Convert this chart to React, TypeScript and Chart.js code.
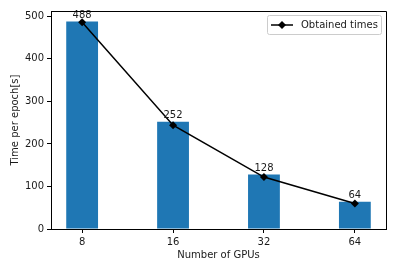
import React, { useEffect, useRef } from "react";
import { Chart, registerables } from "chart.js";

Chart.register(...registerables);

const gpuLabels = ["8", "16", "32", "64"];
const barValues = [488, 252, 128, 64];
const obtainedTimes = [486, 244, 122, 60];
const yTicks = [0, 100, 200, 300, 400, 500];
const legendLabel = "Obtained times";
const xTitle = "Number of GPUs";
const yTitle = "Time per epoch[s]";

const FONT = "'DejaVu Sans', sans-serif";
const TEXT = "#1a1a1a";

export default function App() {
  const ref = useRef<HTMLCanvasElement | null>(null);

  useEffect(() => {
    document.body.style.margin = "0";
    const canvas = ref.current;
    if (!canvas) return;

    const framePlugin = {
      id: "frame",
      afterDatasetsDraw(chart: any) {
        const { ctx, chartArea } = chart;
        const { left, right, top, bottom } = chartArea;
        ctx.save();
        // bar labels
        const meta = chart.getDatasetMeta(0);
        ctx.font = `10px ${FONT}`;
        ctx.fillStyle = TEXT;
        ctx.textAlign = "center";
        ctx.textBaseline = "alphabetic";
        meta.data.forEach((el: any, i: number) => {
          ctx.fillText(String(barValues[i]), el.x, el.y - 3.5);
        });
        // frame
        ctx.strokeStyle = "#000";
        ctx.lineWidth = 1;
        ctx.beginPath();
        ctx.moveTo(left, top + 0.5);
        ctx.lineTo(right + 0.5, top + 0.5);
        ctx.lineTo(right + 0.5, bottom);
        ctx.stroke();
        // legend
        const bx = right - 119;
        const by = top + 4;
        const bw = 114;
        const bh = 19;
        ctx.fillStyle = "rgba(255,255,255,0.85)";
        ctx.strokeStyle = "#cccccc";
        ctx.beginPath();
        const r = 2;
        ctx.moveTo(bx + r + 0.5, by + 0.5);
        ctx.lineTo(bx + bw - r + 0.5, by + 0.5);
        ctx.arcTo(bx + bw + 0.5, by + 0.5, bx + bw + 0.5, by + r + 0.5, r);
        ctx.lineTo(bx + bw + 0.5, by + bh - r + 0.5);
        ctx.arcTo(bx + bw + 0.5, by + bh + 0.5, bx + bw - r + 0.5, by + bh + 0.5, r);
        ctx.lineTo(bx + r + 0.5, by + bh + 0.5);
        ctx.arcTo(bx + 0.5, by + bh + 0.5, bx + 0.5, by + bh - r + 0.5, r);
        ctx.lineTo(bx + 0.5, by + r + 0.5);
        ctx.arcTo(bx + 0.5, by + 0.5, bx + r + 0.5, by + 0.5, r);
        ctx.closePath();
        ctx.fill();
        ctx.stroke();
        const cy = by + bh / 2 + 0.5;
        ctx.strokeStyle = "#000";
        ctx.lineWidth = 1.5;
        ctx.beginPath();
        ctx.moveTo(bx + 4, cy);
        ctx.lineTo(bx + 26, cy);
        ctx.stroke();
        const dx = bx + 15;
        ctx.fillStyle = "#000";
        ctx.beginPath();
        ctx.moveTo(dx, cy - 4);
        ctx.lineTo(dx + 4, cy);
        ctx.lineTo(dx, cy + 4);
        ctx.lineTo(dx - 4, cy);
        ctx.closePath();
        ctx.fill();
        ctx.fillStyle = TEXT;
        ctx.font = `10px ${FONT}`;
        ctx.textAlign = "left";
        ctx.textBaseline = "middle";
        ctx.fillText(legendLabel, bx + 34, cy);
        ctx.restore();
      },
    };

    const chart = new Chart(canvas, {
      type: "bar",
      data: {
        datasets: [
          {
            type: "bar",
            label: "bars",
            data: barValues.map((v, i) => ({ x: i, y: v })),
            backgroundColor: "#1f77b4",
            borderWidth: 0,
            barPercentage: 0.35,
            categoryPercentage: 1,
            order: 2,
          },
          {
            type: "line",
            label: legendLabel,
            data: obtainedTimes.map((v, i) => ({ x: i, y: v })),
            borderColor: "#000",
            backgroundColor: "#000",
            borderWidth: 1.5,
            pointStyle: "rectRot",
            pointRadius: 4,
            pointBorderWidth: 0,
            pointBackgroundColor: "#000",
            tension: 0,
            fill: false,
            order: 1,
          },
        ],
      },
      plugins: [framePlugin],
      options: {
        animation: false,
        responsive: false,
        maintainAspectRatio: false,
        devicePixelRatio: 1,
        layout: { padding: { top: 11, right: 10, left: 0, bottom: 0 } },
        plugins: {
          legend: { display: false },
          tooltip: { enabled: false },
        },
        scales: {
          x: {
            type: "linear",
            offset: false,
            min: -0.3425,
            max: 3.3425,
            afterBuildTicks: (scale: any) => {
              scale.ticks = gpuLabels.map((_, i) => ({ value: i }));
            },
            afterFit: (scale: any) => {
              scale.height = 41;
            },
            ticks: {
              callback: (_v: any, i: number) => gpuLabels[i],
              font: { family: FONT, size: 10 },
              color: TEXT,
              padding: 3,
              maxRotation: 0,
              autoSkip: false,
            },
            grid: {
              offset: false,
              drawOnChartArea: false,
              drawTicks: true,
              tickLength: 4,
              tickColor: "#000",
            },
            border: { display: true, color: "#000", width: 1 },
            title: {
              display: true,
              text: xTitle,
              font: { family: FONT, size: 10 },
              color: TEXT,
              padding: { top: 0, bottom: 9 },
            },
          },
          y: {
            type: "linear",
            min: 0,
            max: 512.4,
            afterBuildTicks: (scale: any) => {
              scale.ticks = yTicks.map((v) => ({ value: v }));
            },
            afterFit: (scale: any) => {
              scale.width = 51;
            },
            ticks: {
              callback: (v: any) => String(v),
              font: { family: FONT, size: 10 },
              color: TEXT,
              padding: 3,
            },
            grid: {
              drawOnChartArea: false,
              drawTicks: true,
              tickLength: 4,
              tickColor: "#000",
            },
            border: { display: true, color: "#000", width: 1 },
            title: {
              display: true,
              text: yTitle,
              font: { family: FONT, size: 10 },
              color: TEXT,
              padding: { top: 9, bottom: 0 },
            },
          },
        },
      },
    } as any);

    return () => chart.destroy();
  }, []);

  return (
    <div style={{ position: "fixed", left: 0, top: 0, width: 396, height: 270, background: "#fff" }}>
      <canvas ref={ref} width={396} height={270} style={{ width: 396, height: 270 }} />
    </div>
  );
}
